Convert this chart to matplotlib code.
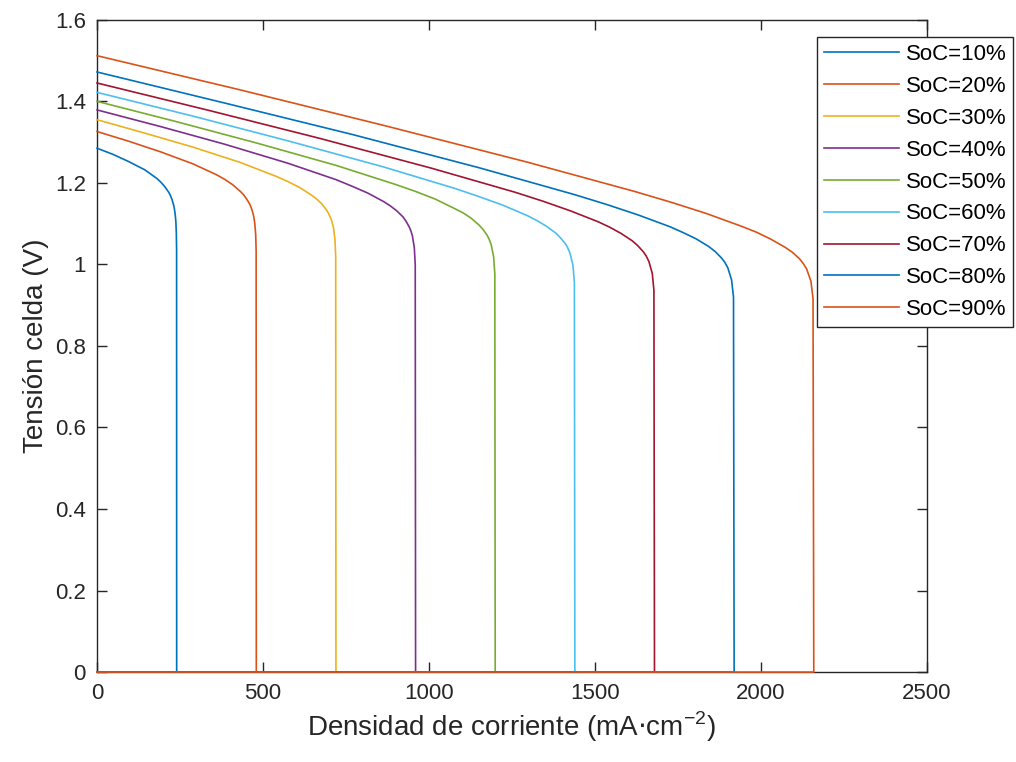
import numpy as np
import matplotlib
matplotlib.use('Agg')
import matplotlib.pyplot as plt
from matplotlib.ticker import FuncFormatter

plt.rcParams['font.family'] = ['Liberation Sans', 'DejaVu Sans']

# polarisation curves: current density (mA/cm2) and cell voltage (V)
soc_labels = ['SoC=10%', 'SoC=20%', 'SoC=30%', 'SoC=40%', 'SoC=50%',
              'SoC=60%', 'SoC=70%', 'SoC=80%', 'SoC=90%']

j10 = [0, 48, 96, 144, 180, 192, 204, 216, 220.8, 225.6, 230.4, 232.8, 235.2, 236.4, 237.6, 239.0, 239.8, 240, 0]
v10 = [1.285, 1.270, 1.252, 1.232, 1.211, 1.202, 1.191, 1.177, 1.170, 1.160, 1.147, 1.138, 1.125, 1.116, 1.104, 1.076, 1.035, 0, 0]

j20 = [0, 96, 192, 288, 360, 384, 408, 432, 441.6, 451.2, 460.8, 465.6, 470.4, 472.8, 475.2, 478.1, 479.5, 480, 0]
v20 = [1.326, 1.302, 1.276, 1.247, 1.220, 1.209, 1.196, 1.179, 1.171, 1.160, 1.147, 1.137, 1.124, 1.115, 1.102, 1.074, 1.033, 0, 0]

j30 = [0, 144, 288, 432, 540, 576, 612, 648, 662.4, 676.8, 691.2, 698.4, 705.6, 709.2, 712.8, 717.1, 719.3, 720, 0]
v30 = [1.355, 1.322, 1.288, 1.250, 1.216, 1.203, 1.188, 1.169, 1.160, 1.149, 1.134, 1.124, 1.111, 1.101, 1.089, 1.060, 1.018, 0, 0]

j40 = [0, 192, 384, 576, 720, 768, 816, 864, 883.2, 902.4, 921.6, 931.2, 940.8, 945.6, 950.4, 956.2, 959.0, 960, 0]
v40 = [1.379, 1.338, 1.295, 1.248, 1.208, 1.192, 1.175, 1.154, 1.144, 1.132, 1.117, 1.106, 1.092, 1.083, 1.070, 1.041, 0.999, 0, 0]

j50 = [0, 240, 480, 720, 900, 960, 1020, 1080, 1104, 1128, 1152, 1164, 1176, 1182, 1188, 1195.2, 1198.8, 1200, 0]
v50 = [1.400, 1.350, 1.298, 1.243, 1.196, 1.179, 1.160, 1.136, 1.126, 1.113, 1.096, 1.085, 1.071, 1.061, 1.048, 1.019, 0.977, 0, 0]

j60 = [0, 288, 576, 864, 1080, 1152, 1224, 1296, 1324.8, 1353.6, 1382.4, 1396.8, 1411.2, 1418.4, 1425.6, 1434.2, 1438.6, 1440, 0]
v60 = [1.422, 1.364, 1.303, 1.239, 1.186, 1.166, 1.145, 1.120, 1.108, 1.094, 1.077, 1.065, 1.051, 1.041, 1.027, 0.998, 0.956, 0, 0]

j70 = [0, 336, 672, 1008, 1260, 1344, 1428, 1512, 1545.6, 1579.2, 1612.8, 1629.6, 1646.4, 1654.8, 1663.2, 1673.3, 1678.3, 1680, 0]
v70 = [1.445, 1.378, 1.309, 1.236, 1.177, 1.155, 1.131, 1.104, 1.091, 1.076, 1.058, 1.046, 1.031, 1.021, 1.007, 0.978, 0.936, 0, 0]

j80 = [0, 384, 768, 1152, 1440, 1536, 1632, 1728, 1766.4, 1804.8, 1843.2, 1862.4, 1881.6, 1891.2, 1900.8, 1912.3, 1918.1, 1920, 0]
v80 = [1.472, 1.396, 1.319, 1.237, 1.171, 1.147, 1.121, 1.092, 1.078, 1.063, 1.044, 1.032, 1.016, 1.006, 0.992, 0.962, 0.920, 0, 0]

j90 = [0, 432, 864, 1296, 1620, 1728, 1836, 1944, 1987.2, 2030.4, 2073.6, 2095.2, 2116.8, 2127.6, 2138.4, 2151.4, 2157.8, 2160, 0]
v90 = [1.512, 1.428, 1.341, 1.251, 1.179, 1.153, 1.125, 1.093, 1.079, 1.062, 1.042, 1.030, 1.014, 1.003, 0.989, 0.959, 0.916, 0, 0]

curves = [(j10, v10), (j20, v20), (j30, v30), (j40, v40), (j50, v50),
          (j60, v60), (j70, v70), (j80, v80), (j90, v90)]

colors = ['#0072BD', '#D95319', '#EDB120', '#7E2F8E', '#77AC30',
          '#4DBEEE', '#A2142F', '#0072BD', '#D95319']

fig = plt.figure(figsize=(10.16, 7.62), dpi=100)
ax = fig.add_axes([0.0955, 0.118, 0.8165, 0.856])

for (jj, vv), c, lab in zip(curves, colors, soc_labels):
    ax.plot(jj, vv, color=c, lw=1.2, label=lab, zorder=3, clip_on=False)

ax.set_xlim(0, 2500)
ax.set_ylim(0, 1.6)
ax.set_xticks(np.arange(0, 2501, 500))
ax.set_yticks(np.arange(0, 1.61, 0.2))
ax.yaxis.set_major_formatter(FuncFormatter(lambda v, p: '%g' % round(v, 2)))

axcol = '#262626'
for s in ax.spines.values():
    s.set_color(axcol)
    s.set_linewidth(1.0)
ax.tick_params(direction='in', length=7, width=1.0, colors=axcol,
               labelsize=16, top=True, right=True, pad=8)

ax.set_xlabel(r'Densidad de corriente (mA$\cdot$cm$^{\mathregular{-2}}$)', fontsize=20, color=axcol)
ax.set_ylabel('Tensión celda (V)', fontsize=20, color=axcol)

leg = ax.legend(loc='upper left', bbox_to_anchor=(0.804, 0.951),
                bbox_transform=fig.transFigure, fontsize=16, handlelength=3.4,
                handletextpad=0.3, labelspacing=0.49, borderpad=0.3,
                borderaxespad=0, fancybox=False, framealpha=1)
leg.get_frame().set_edgecolor(axcol)
leg.get_frame().set_linewidth(1.0)
leg.set_zorder(5)

fig.savefig('out.png', dpi=100)
